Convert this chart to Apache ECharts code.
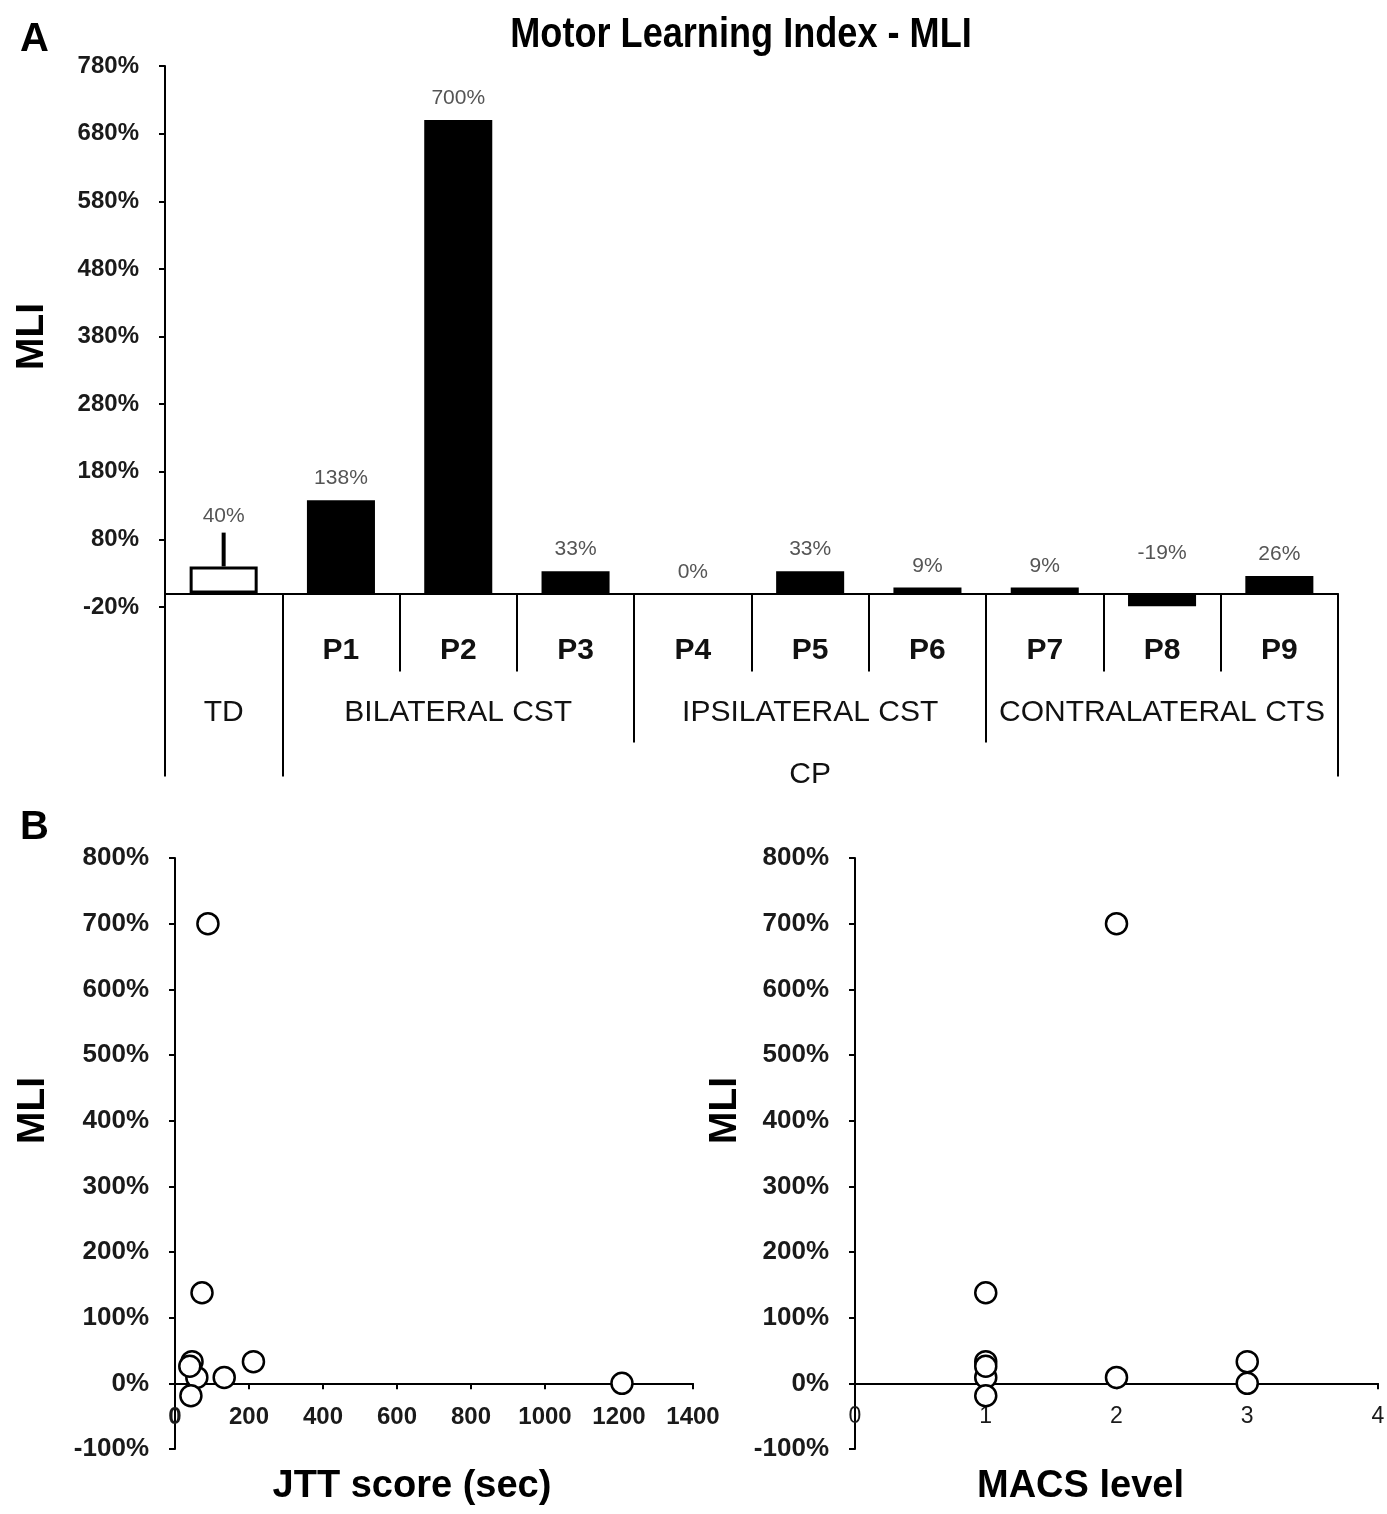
<!DOCTYPE html>
<html>
<head>
<meta charset="utf-8">
<title>Motor Learning Index - MLI</title>
<script src="https://cdn.jsdelivr.net/npm/echarts@6/dist/echarts.min.js"></script>
<style>
  html, body { margin: 0; padding: 0; background: #fff; }
  #chart { width: 1387px; height: 1514px; }
</style>
</head>
<body>
<div id="chart"></div>
<script>
// panel A: MLI per subject
const barCategories = ['TD', 'P1', 'P2', 'P3', 'P4', 'P5', 'P6', 'P7', 'P8', 'P9']
const mliValues = [40, 138, 700, 33, 0, 33, 9, 9, -19, 26]
const tdError = 50
const groupNames = ['TD', 'BILATERAL CST', 'IPSILATERAL CST', 'CONTRALATERAL CTS']
const groupSizes = [1, 3, 3, 3]
const cpLabel = 'CP'

// panel B: MLI against JTT score and MACS level (P1..P9)
const scatterMli = [138, 700, 33, 0, 33, 9, 9, -19, 26]
const jttScores = [73, 89, 212, 1208, 46, 133, 59, 43, 40]
const macsLevels = [1, 2, 3, 3, 1, 2, 1, 1, 1]

const SANS = '"Liberation Sans", Arial, sans-serif'

const groupStarts = []
let acc = 0
groupSizes.forEach(n => { groupStarts.push(acc); acc += n })
const groupLabelAt = {}
groupStarts.forEach((st, i) => { groupLabelAt[st + Math.floor(groupSizes[i] / 2)] = groupNames[i] })
const cpStart = groupSizes[0]
const cpLabelAt = cpStart + Math.floor((barCategories.length - cpStart) / 2)

const black = { color: '#000', width: 2 }

// category axes stacked on the zero line: the ticks draw the table under the bars
const tableAxis = (tickLen, tickFn, labelFn, margin, bold, showLine) => ({
  type: 'category',
  gridIndex: 0,
  data: barCategories,
  position: 'bottom',
  axisLine: { show: showLine, onZero: true, onZeroAxisIndex: 0, lineStyle: black },
  axisTick: { show: true, length: tickLen, interval: tickFn, lineStyle: black },
  axisLabel: {
    interval: 0,
    margin: margin,
    formatter: labelFn,
    color: '#111',
    fontFamily: SANS,
    fontSize: 30,
    fontWeight: bold ? 'bold' : 'normal'
  },
  splitLine: { show: false }
})

const valueY = (gridIndex, min, max, step, opt) => ({
  type: 'value',
  gridIndex: gridIndex,
  min: min,
  max: max,
  interval: step,
  name: 'MLI',
  nameLocation: 'middle',
  nameRotate: 90,
  nameGap: opt.gap,
  nameTextStyle: {
    fontFamily: SANS, fontSize: 39, fontWeight: 'bold', color: '#000',
    padding: opt.pad
  },
  axisLine: { show: true, lineStyle: black },
  axisTick: { show: true, length: 6, lineStyle: black },
  axisLabel: {
    formatter: '{value}%', margin: opt.margin, color: '#1a1a1a',
    fontFamily: SANS, fontSize: opt.font, fontWeight: 'bold'
  },
  splitLine: { show: false }
})

const scatterX = (gridIndex, max, step, name, pad, font, bold) => ({
  type: 'value',
  gridIndex: gridIndex,
  min: 0,
  max: max,
  interval: step,
  name: name,
  nameLocation: 'middle',
  nameGap: 19,
  nameMoveOverlap: false,
  nameTextStyle: { fontFamily: SANS, fontSize: 38, fontWeight: 'bold', color: '#000', padding: pad },
  axisLine: { show: true, onZero: true, lineStyle: black },
  axisTick: { show: true, length: 6, lineStyle: black },
  axisLabel: {
    margin: -44, color: '#1a1a1a', fontFamily: SANS, fontSize: font,
    fontWeight: bold ? 'bold' : 'normal', formatter: (v) => String(v)
  },
  splitLine: { show: false }
})

const circle = {
  type: 'scatter',
  symbol: 'circle',
  symbolSize: 21,
  itemStyle: { color: '#fff', borderColor: '#000', borderWidth: 2.5, opacity: 1 },
  z: 5
}

const chart = echarts.init(document.getElementById('chart'))

chart.setOption({
  animation: false,
  backgroundColor: '#fff',
  graphic: [
    {
      type: 'text', x: 741, y: 14, scaleX: 0.84,
      style: {
        text: 'Motor Learning Index - MLI', align: 'center', verticalAlign: 'top',
        font: 'bold 43px ' + SANS, fill: '#000'
      }
    },
    { type: 'text', left: 20, top: 20, style: { text: 'A', fontFamily: SANS, fontSize: 40, fontWeight: 'bold', fill: '#000' } },
    { type: 'text', left: 20, top: 808, style: { text: 'B', fontFamily: SANS, fontSize: 40, fontWeight: 'bold', fill: '#000' } }
  ],
  grid: [
    { left: 165, right: 49, top: 66, bottom: 907, outerBoundsMode: 'none' },
    { left: 175, right: 694, top: 858, bottom: 65, outerBoundsMode: 'none' },
    { left: 855, right: 9, top: 858, bottom: 65, outerBoundsMode: 'none' }
  ],
  xAxis: [
    tableAxis(78, () => true, (v, i) => (i === 0 ? '' : v), 29, true, true),
    tableAxis(149, (i) => groupStarts.includes(i), (v, i) => groupLabelAt[i] || '', 91, false, false),
    tableAxis(183, (i) => i === 0 || i === cpStart, (v, i) => (i === cpLabelAt ? cpLabel : ''), 153, false, false),
    scatterX(1, 1400, 200, 'JTT score (sec)', [0, 44, 0, 0], 24, true),
    scatterX(2, 4, 1, 'MACS level', [0, 72, 0, 0], 23, false)
  ],
  yAxis: [
    valueY(0, -20, 780, 100, { gap: 113, pad: [0, 0, 0, 0], margin: 26, font: 24 }),
    valueY(1, -100, 800, 100, { gap: 122, pad: [0, 0, 0, 86], margin: 26, font: 26 }),
    valueY(2, -100, 800, 100, { gap: 110, pad: [0, 0, 0, 86], margin: 26, font: 26 })
  ],
  series: [
    {
      type: 'bar',
      xAxisIndex: 0,
      yAxisIndex: 0,
      barWidth: '58%',
      data: mliValues.map((v, i) => ({
        value: v,
        itemStyle: i === 0
          ? { color: '#fff', borderColor: '#000', borderWidth: 3 }
          : { color: '#000' },
        label: i === 0 ? { show: false } : (v < 0 ? { distance: 30 } : {})
      })),
      label: {
        show: true,
        position: 'top',
        distance: 11,
        formatter: '{c}%',
        color: '#555',
        fontFamily: SANS,
        fontSize: 21
      },
      z: 3
    },
    {
      // TD error bar and its label
      type: 'custom',
      xAxisIndex: 0,
      yAxisIndex: 0,
      data: [[0, mliValues[0], mliValues[0] + tdError]],
      renderItem: (params, api) => {
        const base = api.coord([api.value(0), api.value(1)])
        const top = api.coord([api.value(0), api.value(2)])
        return {
          type: 'group',
          children: [
            {
              type: 'line',
              shape: { x1: base[0], y1: base[1], x2: top[0], y2: top[1] },
              style: { stroke: '#000', lineWidth: 4 }
            },
            {
              type: 'text',
              x: top[0],
              y: top[1] - 6,
              style: {
                text: api.value(1) + '%',
                align: 'center',
                verticalAlign: 'bottom',
                fill: '#555',
                font: '21px ' + SANS
              }
            }
          ]
        }
      },
      z: 2
    },
    Object.assign({}, circle, {
      xAxisIndex: 3,
      yAxisIndex: 1,
      data: jttScores.map((x, i) => [x, scatterMli[i]])
    }),
    Object.assign({}, circle, {
      xAxisIndex: 4,
      yAxisIndex: 2,
      data: macsLevels.map((x, i) => [x, scatterMli[i]])
    })
  ]
})
</script>
</body>
</html>
